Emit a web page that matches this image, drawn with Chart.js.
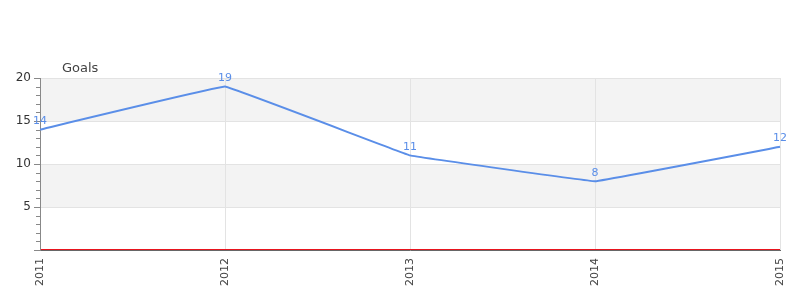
<!DOCTYPE html>
<html>
<head>
<meta charset="utf-8">
<script src="https://cdn.jsdelivr.net/npm/chart.js@4/dist/chart.umd.min.js"></script>
<style>
html,body{margin:0;padding:0;background:#fff;}
#wrap{width:800px;height:300px;position:relative;}
</style>
</head>
<body>
<div id="wrap"><canvas id="c" width="800" height="300"></canvas></div>
<script>
const categories = ['2011', '2012', '2013', '2014', '2015'];
const goals = [14, 19, 11, 8, 12];
const seriesName = 'Goals';
const yTicks = [0, 5, 10, 15, 20];
const bands = [[5, 10], [15, 20]];

const FONT = '"DejaVu Sans", sans-serif';
const LINE = '#5a8ee8';

const bgPlugin = {
  id: 'bands',
  beforeDraw(chart) {
    const {ctx, chartArea: a, scales: {y}} = chart;
    ctx.save();
    ctx.fillStyle = '#f3f3f3';
    bands.forEach(([lo, hi]) => {
      const t = y.getPixelForValue(hi), b = y.getPixelForValue(lo);
      ctx.fillRect(a.left, t, a.right - a.left, b - t);
    });
    ctx.restore();
  }
};

const extrasPlugin = {
  id: 'extras',
  afterDraw(chart) {
    const {ctx, chartArea: a, scales: {y}} = chart;
    ctx.save();
    // zero line
    ctx.fillStyle = '#e8141e';
    const y0 = Math.round(y.getPixelForValue(0));
    ctx.fillRect(a.left + 1, y0 - 1, a.right - a.left - 1, 1);
    // minor ticks
    ctx.strokeStyle = '#888';
    ctx.lineWidth = 1;
    for (let v = y.min; v <= y.max; v++) {
      if (v % 5 === 0) continue;
      const py = Math.round(y.getPixelForValue(v)) + 0.5;
      ctx.beginPath(); ctx.moveTo(a.left - 4, py); ctx.lineTo(a.left, py); ctx.stroke();
    }
    // data labels
    const meta = chart.getDatasetMeta(0);
    ctx.fillStyle = LINE;
    ctx.font = '11px ' + FONT;
    ctx.textAlign = 'center';
    ctx.textBaseline = 'bottom';
    meta.data.forEach((pt, i) => {
      ctx.fillText(String(goals[i]), pt.x, pt.y - 3);
    });
    // series title
    ctx.fillStyle = '#444';
    ctx.font = '13px ' + FONT;
    ctx.textAlign = 'left';
    ctx.textBaseline = 'alphabetic';
    ctx.fillText(seriesName, a.left + 22, a.top - 6);
    ctx.restore();
  }
};

new Chart(document.getElementById('c'), {
  type: 'line',
  data: {
    labels: categories,
    datasets: [{
      label: seriesName,
      data: goals,
      borderColor: LINE,
      backgroundColor: LINE,
      borderWidth: 2,
      pointRadius: 0,
      tension: 0.03,
      fill: false
    }]
  },
  options: {
    responsive: false,
    animation: false,
    layout: {padding: {top: 78, right: 20, left: 0, bottom: 0}},
    plugins: {legend: {display: false}, tooltip: {enabled: false}, title: {display: false}},
    scales: {
      x: {
        offset: false,
        grid: {color: '#e3e3e3', lineWidth: 1, drawTicks: false},
        border: {color: '#666', width: 1},
        ticks: {
          minRotation: 90, maxRotation: 90, padding: 8,
          color: '#444', font: {family: FONT, size: 11}
        },
        afterFit(s) { s.height = 50; s.paddingLeft = 0; s.paddingRight = 0; }
      },
      y: {
        min: 0, max: 20,
        afterBuildTicks(s) { s.ticks = yTicks.map(v => ({value: v})); },
        grid: {color: '#e3e3e3', tickColor: '#888', tickLength: 6},
        border: {color: '#888', width: 1},
        ticks: {
          color: '#333', padding: 3,
          font: {family: FONT, size: 12},
          callback: v => v === 0 ? '' : String(v)
        },
        afterFit(s) { s.width = 40; s.paddingTop = 0; s.paddingBottom = 0; }
      }
    }
  },
  plugins: [bgPlugin, extrasPlugin]
});
</script>
</body>
</html>
